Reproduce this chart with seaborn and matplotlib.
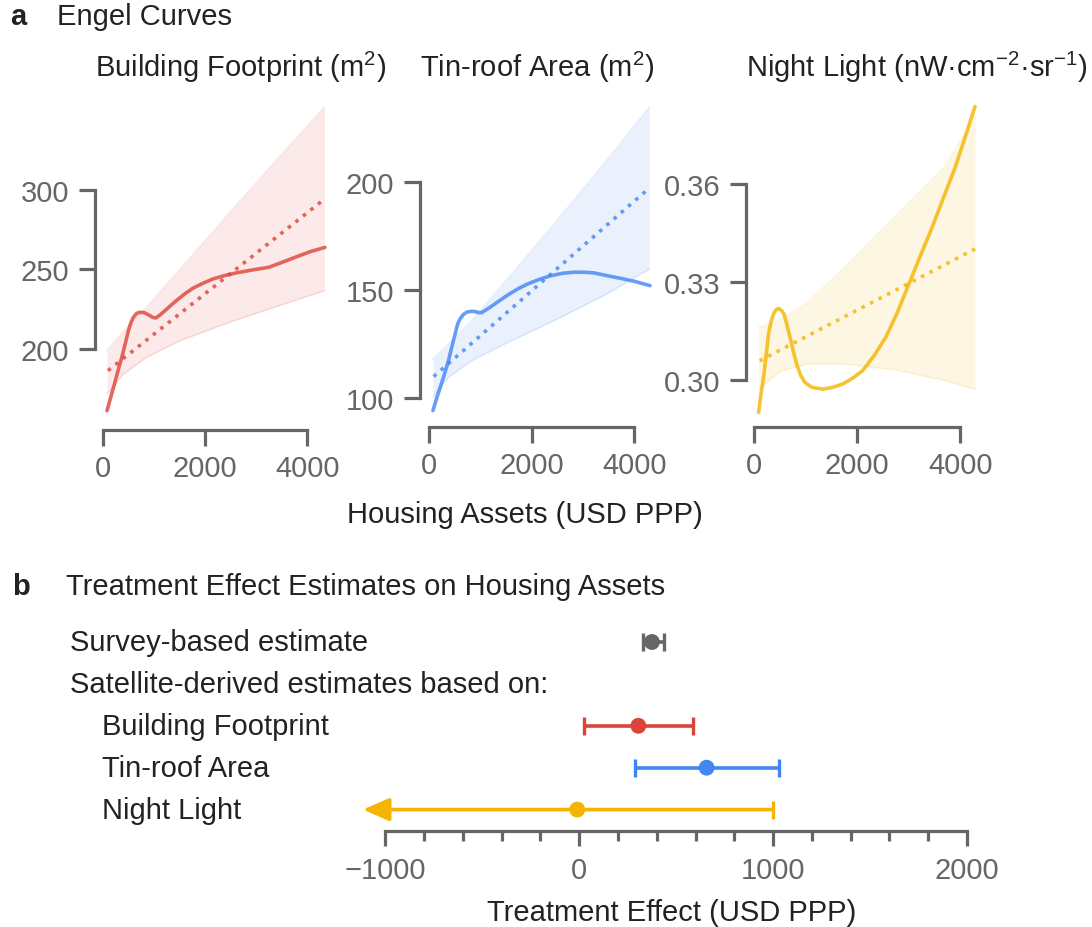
import matplotlib
matplotlib.use('Agg')
import matplotlib.pyplot as plt
import matplotlib.transforms as mtransforms
from matplotlib.ticker import FixedLocator
import seaborn as sns

# ---- panel a: Engel curves ----
fp_x = [78, 142, 207, 285, 369, 434, 498, 550, 595, 660, 725, 803, 887, 971, 1036, 1100, 1178,
        1307, 1437, 1599, 1760, 1955, 2149, 2375, 2602, 2925, 3249, 3508, 3767, 4058, 4349]
fp_y = [161.2, 168.6, 175.9, 185.3, 194.8, 203.1, 211.5, 216.8, 219.9, 222.4, 223.1, 222.9, 221.6,
        219.9, 219.5, 221.0, 223.1, 226.8, 230.4, 234.6, 238.2, 241.3, 244.0, 246.1, 247.8, 249.7,
        251.4, 254.5, 257.7, 261.2, 263.9]
fp_lin_x = [97, 4317]
fp_lin_y = [186.4, 293.7]
fp_band_x = [78, 401, 854, 1502, 2473, 3444, 4337]
fp_band_lo = [171.7, 184.3, 194.8, 205.2, 216.8, 227.2, 236.7]
fp_band_hi = [198.9, 211.1, 226.2, 249.9, 285.3, 320.4, 352.0]

tin_x = [77, 155, 219, 303, 380, 444, 509, 560, 605, 670, 734, 818, 895, 973, 1024, 1121, 1217,
         1378, 1539, 1733, 1926, 2151, 2377, 2602, 2828, 3021, 3214, 3472, 3729, 4019, 4309]
tin_y = [94.1, 100.3, 104.9, 111.1, 117.3, 123.5, 129.6, 134.3, 136.6, 138.6, 139.7, 140.1, 140.0,
         139.5, 139.5, 140.9, 142.4, 145.1, 147.7, 150.5, 152.8, 154.9, 156.6, 157.7, 158.2, 158.2,
         157.9, 156.6, 155.4, 153.9, 152.0]
tin_lin_x = [90, 4277]
tin_lin_y = [109.9, 196.8]
tin_band_x = [77, 380, 831, 1475, 2441, 3407, 4296]
tin_band_lo = [100.3, 109.6, 117.3, 125.0, 135.8, 147.4, 159.7]
tin_band_hi = [118.1, 125.0, 135.8, 153.6, 180.6, 208.3, 234.6]

nl_x = [90, 135, 186, 231, 282, 327, 378, 430, 474, 526, 583, 635, 699, 763, 827, 904, 987, 1115,
        1340, 1532, 1724, 1917, 2109, 2333, 2558, 2782, 3006, 3231, 3455, 3679, 3904, 4096, 4288]
nl_y = [0.2901, 0.2957, 0.3008, 0.3069, 0.3141, 0.3177, 0.3202, 0.3215, 0.3219, 0.3214, 0.3202,
        0.3171, 0.3131, 0.3088, 0.3049, 0.3015, 0.2993, 0.2978, 0.2972, 0.2978, 0.2988, 0.3006,
        0.3029, 0.3075, 0.3131, 0.3207, 0.3294, 0.3381, 0.3467, 0.3559, 0.3651, 0.3743, 0.3837]
nl_lin_x = [109, 4288]
nl_lin_y = [0.3059, 0.3401]
nl_band_x = [90, 506, 1019, 1788, 2750, 3712, 4288]
nl_band_lo = [0.2972, 0.3027, 0.3049, 0.3049, 0.3031, 0.2998, 0.2972]
nl_band_hi = [0.3161, 0.3184, 0.3235, 0.3350, 0.3503, 0.3656, 0.3806]

# ---- panel b: treatment effects ----
est_labels = ['Survey-based estimate', 'Building Footprint', 'Tin-roof Area', 'Night Light']
est_rows = [0, 2, 3, 4]
est_vals = [375, 305, 657, -10]
est_lo = [327, 23, 286, -1021]
est_hi = [435, 585, 1031, 1001]
est_colors = ['#666666', '#db4437', '#4285f4', '#f4b400']

sns.set_theme(style='ticks')
plt.rcParams['font.family'] = ['Liberation Sans', 'DejaVu Sans']
plt.rcParams['mathtext.fontset'] = 'custom'
plt.rcParams['mathtext.rm'] = 'Liberation Sans'
plt.rcParams['mathtext.it'] = 'Liberation Sans'

W, H = 1092, 928
fig = plt.figure(figsize=(W / 100, H / 100), dpi=100)

txt = '#222222'
grey = '#666666'
fs = 21


def px_axes(l, t, r, b):
    return fig.add_axes([l / W, 1 - b / H, (r - l) / W, (b - t) / H])


def pt(px):
    return px * 72 / 100


panels = [
    dict(box=(103, 100, 327, 416), xlim=(39, 4388), ylim=(158.5, 357.2), yt=[200, 250, 300],
         off=(8, 15), col='#db4437', title='Building Footprint (m$^2$)', tx=95, fmt='{:.0f}',
         x=fp_x, y=fp_y, lx=fp_lin_x, ly=fp_lin_y, bx=fp_band_x, blo=fp_band_lo, bhi=fp_band_hi),
    dict(box=(429, 100, 652, 416), xlim=(39, 4348), ylim=(92.1, 238.4), yt=[100, 150, 200],
         off=(9, 12), col='#4285f4', title='Tin-roof Area (m$^2$)', tx=420, fmt='{:.0f}',
         x=tin_x, y=tin_y, lx=tin_lin_x, ly=tin_lin_y, bx=tin_band_x, blo=tin_band_lo, bhi=tin_band_hi),
    dict(box=(754, 100, 978, 416), xlim=(38, 4346), ylim=(0.2893, 0.3860), yt=[0.30, 0.33, 0.36],
         off=(8, 12), col='#f4b400', title='Night Light (nW·cm$^{-2}$·sr$^{-1}$)', tx=746, fmt='{:.2f}',
         x=nl_x, y=nl_y, lx=nl_lin_x, ly=nl_lin_y, bx=nl_band_x, blo=nl_band_lo, bhi=nl_band_hi),
]

for p in panels:
    ax = px_axes(*p['box'])
    ax.fill_between(p['bx'], p['blo'], p['bhi'], color=p['col'], alpha=0.11, lw=0)
    ax.plot(p['bx'], p['blo'], color=p['col'], alpha=0.12, lw=1.2)
    ax.plot(p['bx'], p['bhi'], color=p['col'], alpha=0.12, lw=1.2)
    sns.lineplot(x=p['lx'], y=p['ly'], ax=ax, color=p['col'], alpha=0.8, lw=2.6, linestyle=':')
    sns.lineplot(x=p['x'], y=p['y'], ax=ax, color=p['col'], alpha=0.8, lw=2.6)
    ax.set_xlim(*p['xlim'])
    ax.set_ylim(*p['ylim'])
    ax.set_xticks([0, 2000, 4000])
    ax.set_yticks(p['yt'])
    ax.set_yticklabels([p['fmt'].format(v) for v in p['yt']])
    for s in ['top', 'right']:
        ax.spines[s].set_visible(False)
    ax.spines['left'].set_position(('outward', pt(p['off'][0])))
    ax.spines['bottom'].set_position(('outward', pt(p['off'][1])))
    ax.spines['left'].set_bounds(p['yt'][0], p['yt'][-1])
    ax.spines['bottom'].set_bounds(0, 4000)
    for s in ['left', 'bottom']:
        ax.spines[s].set_color(grey)
        ax.spines[s].set_linewidth(2.3)
    ax.tick_params(axis='both', colors=grey, labelcolor=grey, labelsize=fs, width=2.3, length=11.5)
    ax.tick_params(axis='y', pad=7)
    ax.tick_params(axis='x', pad=6)
    ax.set_xlabel('')
    ax.set_ylabel('')
    fig.text(p['tx'] / W, 1 - 67 / H, p['title'], fontsize=fs, color=txt, ha='left', va='center')

fig.text(10 / W, 1 - 17 / H, 'a', fontsize=fs, weight='bold', color=txt, va='center')
fig.text(57 / W, 1 - 17 / H, 'Engel Curves', fontsize=fs, color=txt, va='center')
fig.text(525 / W, 1 - 515 / H, 'Housing Assets (USD PPP)', fontsize=fs, color=txt, ha='center', va='center')

# ---- panel b ----
fig.text(12 / W, 1 - 587 / H, 'b', fontsize=fs, weight='bold', color=txt, va='center')
fig.text(66 / W, 1 - 587 / H, 'Treatment Effect Estimates on Housing Assets', fontsize=fs, color=txt, va='center')

bx = px_axes(363, 620, 980, 825)
xmin, xlo_bound = -1115, -1000
bx.set_xlim(xmin, 2067)
bx.set_ylim(4.344, -0.549)

lab_tr = mtransforms.blended_transform_factory(fig.transFigure, bx.transData)
bx.text(70 / W, 0, est_labels[0], transform=lab_tr, fontsize=fs, color=txt, va='center')
bx.text(70 / W, 1, 'Satellite-derived estimates based on:', transform=lab_tr, fontsize=fs, color=txt, va='center')
for lab, r in zip(est_labels[1:], est_rows[1:]):
    bx.text(102 / W, r, lab, transform=lab_tr, fontsize=fs, color=txt, va='center')

for r, v, lo, hi, c in zip(est_rows, est_vals, est_lo, est_hi, est_colors):
    if lo < xlo_bound:
        # interval runs past the axis: draw it as an arrow to the edge
        bx.annotate('', xy=(xmin, r), xytext=(hi, r),
                    arrowprops=dict(arrowstyle='-|>,head_length=0.8,head_width=0.35', color=c,
                                    lw=2.6, shrinkA=0, shrinkB=0, mutation_scale=20))
        bx.plot([hi], [r], marker='|', ms=13, mew=2.4, color=c)
    else:
        bx.hlines(r, lo, hi, color=c, lw=2.6)
        bx.plot([lo, hi], [r, r], marker='|', ms=13, mew=2.4, color=c, lw=0)

sns.scatterplot(x=est_vals, y=est_rows, hue=est_labels, palette=est_colors, s=130,
                linewidth=0, ax=bx, legend=False, zorder=5)

for s in ['top', 'right', 'left']:
    bx.spines[s].set_visible(False)
bx.spines['bottom'].set_position(('outward', pt(7)))
bx.spines['bottom'].set_bounds(-1000, 2000)
bx.spines['bottom'].set_color(grey)
bx.spines['bottom'].set_linewidth(2.3)
bx.set_yticks([])
bx.set_xticks([-1000, 0, 1000, 2000])
bx.set_xticklabels(['\u22121000', '0', '1000', '2000'])
bx.xaxis.set_minor_locator(FixedLocator(list(range(-800, 2000, 200))))
bx.tick_params(axis='x', which='major', colors=grey, labelcolor=grey, labelsize=fs, width=2.3,
               length=11, pad=7)
bx.tick_params(axis='x', which='minor', colors=grey, width=2.3, length=7.5)
bx.set_xlabel('Treatment Effect (USD PPP)', fontsize=fs, color=txt, labelpad=10)
bx.set_ylabel('')

fig.savefig('out.png', dpi=100)
